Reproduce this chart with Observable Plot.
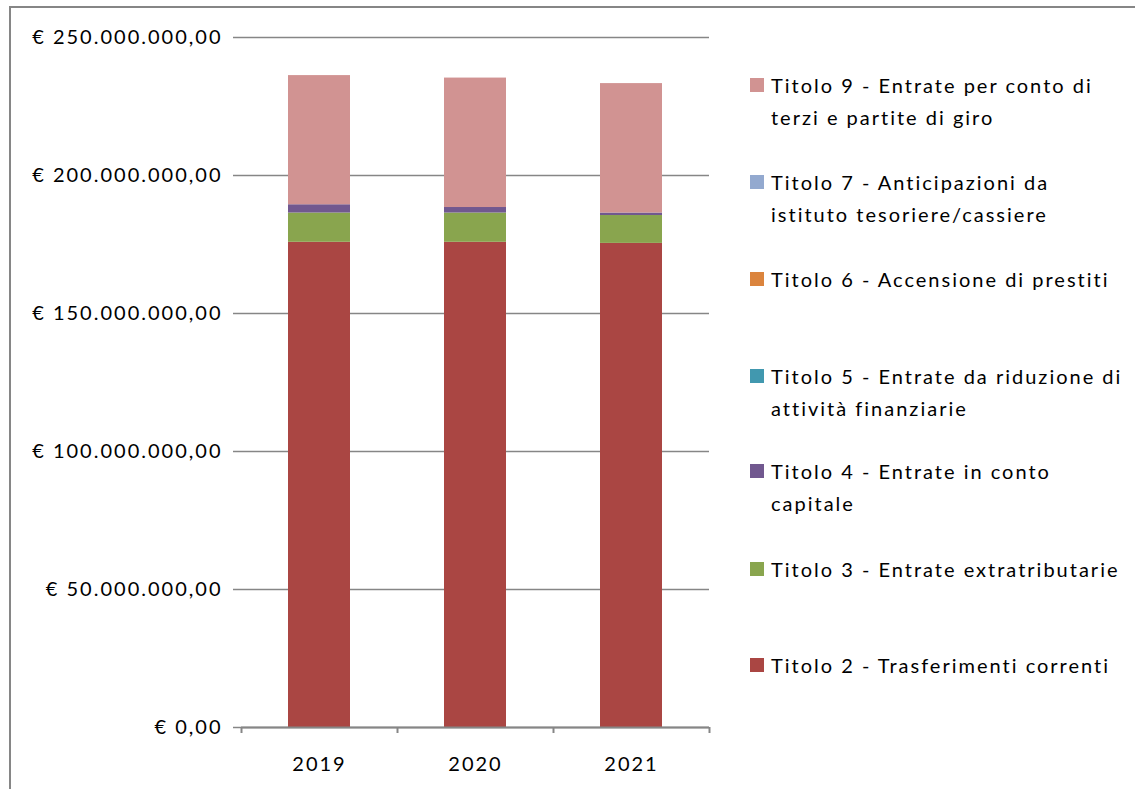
<!DOCTYPE html>
<html>
<head>
<meta charset="utf-8">
<script src="https://cdn.jsdelivr.net/npm/d3@7"></script>
<script src="https://cdn.jsdelivr.net/npm/@observablehq/plot@0.6"></script>
<style>
  html, body { margin: 0; padding: 0; background: #fff; overflow: hidden; }
  #wrap { position: relative; width: 1135px; height: 789px; font-family: Lato, "Open Sans", sans-serif; }
  #border { position: absolute; left: 9px; top: 6px; width: 2000px; height: 2000px; border: 2px solid #868686; box-sizing: border-box; }
  #chart { position: absolute; left: 0; top: 0; }
  #chart svg text { letter-spacing: 2px; }
  #legend { position: absolute; left: 0; top: 0; width: 1135px; height: 789px; pointer-events: none; }
  .item { position: absolute; left: 750px; font-size: 20px; line-height: 32px; color: #000; white-space: nowrap; letter-spacing: 2px; }
  .sw { position: absolute; left: 0; top: 9px; width: 14px; height: 14px; }
  .lbl { position: absolute; left: 21px; top: 0; }
</style>
</head>
<body>
<div id="wrap">
  <div id="border"></div>
  <div id="chart"></div>
  <div id="legend"></div>
</div>
<script>
const years = ["2019", "2020", "2021"];
const series = [
  "Titolo 2 - Trasferimenti correnti",
  "Titolo 3 - Entrate extratributarie",
  "Titolo 4 - Entrate in conto capitale",
  "Titolo 5 - Entrate da riduzione di attività finanziarie",
  "Titolo 6 - Accensione di prestiti",
  "Titolo 7 - Anticipazioni da istituto tesoriere/cassiere",
  "Titolo 9 - Entrate per conto di terzi e partite di giro"
];
const titolo2 = [175.8e6, 175.8e6, 175.4e6];
const titolo3 = [10.6e6, 10.6e6, 10.1e6];
const titolo4 = [3.0e6, 2.0e6, 0.9e6];
const titolo5 = [0, 0, 0];
const titolo6 = [0, 0, 0];
const titolo7 = [0, 0, 0];
const titolo9 = [46.8e6, 46.9e6, 46.9e6];
const colors = ["#AA4643", "#89A54E", "#71588F", "#4198AF", "#DB843D", "#93A9CF", "#D19392"];
const legendLines = [
  ["Titolo 2 - Trasferimenti correnti"],
  ["Titolo 3 - Entrate extratributarie"],
  ["Titolo 4 - Entrate in conto", "capitale"],
  ["Titolo 5 - Entrate da riduzione di", "attività finanziarie"],
  ["Titolo 6 - Accensione di prestiti"],
  ["Titolo 7 - Anticipazioni da", "istituto tesoriere/cassiere"],
  ["Titolo 9 - Entrate per conto di", "terzi e partite di giro"]
];
const legendTops = [649, 553, 455, 360, 263, 166, 69];
const yTicks = [0, 50e6, 100e6, 150e6, 200e6, 250e6];

const valuesBySeries = [titolo2, titolo3, titolo4, titolo5, titolo6, titolo7, titolo9];
const data = [];
series.forEach((s, i) => years.forEach((y, j) => data.push({year: y, series: s, value: valuesBySeries[i][j]})));

const fmt = d3.formatLocale({decimal: ",", thousands: ".", grouping: [3], currency: ["€ ", ""]}).format("$,.2f");

const W = 1135, H = 789, ML = 241, MR = 426, MT = 37, MB = 62;
const step = (W - ML - MR) / years.length;
const grey = "#868686";

const chart = Plot.plot({
  width: W, height: H,
  marginTop: MT, marginBottom: MB, marginLeft: ML, marginRight: MR,
  style: {fontFamily: "Lato, 'Open Sans', sans-serif", fontSize: "20px", color: "#000", background: "transparent"},
  x: {domain: years, paddingInner: 0.6, paddingOuter: 0.3, label: null},
  y: {domain: [0, 250e6], label: null},
  color: {domain: series, range: colors},
  marks: [
    Plot.gridY(yTicks, {stroke: grey, strokeOpacity: 1, strokeWidth: 1.5}),
    Plot.axisY(yTicks, {tickSize: 8, tickPadding: 11, stroke: grey, strokeOpacity: 1, strokeWidth: 1.5, tickFormat: fmt, label: null, fill: "#000", fontSize: 20}),
    Plot.barY(data, {x: "year", y: "value", fill: "series"}),
    Plot.ruleX([0], {frameAnchor: "left", stroke: grey, strokeWidth: 2}),
    Plot.ruleY([0], {stroke: grey, strokeWidth: 2}),
    Plot.axisX({tickSize: 0, tickPadding: 29, label: null, fill: "#000", fontSize: 20}),
    Plot.axisX(years, {text: null, tickSize: 6, dx: -step / 2, stroke: grey, strokeOpacity: 1, strokeWidth: 2, label: null}),
    Plot.axisX([years[years.length - 1]], {text: null, tickSize: 6, dx: step / 2, stroke: grey, strokeOpacity: 1, strokeWidth: 2, label: null})
  ]
});
document.getElementById("chart").appendChild(chart);

const legend = document.getElementById("legend");
legendLines.forEach((lines, i) => {
  const item = document.createElement("div");
  item.className = "item";
  item.style.top = legendTops[i] + "px";
  const sw = document.createElement("div");
  sw.className = "sw";
  sw.style.background = colors[i];
  const lbl = document.createElement("div");
  lbl.className = "lbl";
  lbl.innerHTML = lines.join("<br>");
  item.appendChild(sw);
  item.appendChild(lbl);
  legend.appendChild(item);
});
</script>
</body>
</html>
